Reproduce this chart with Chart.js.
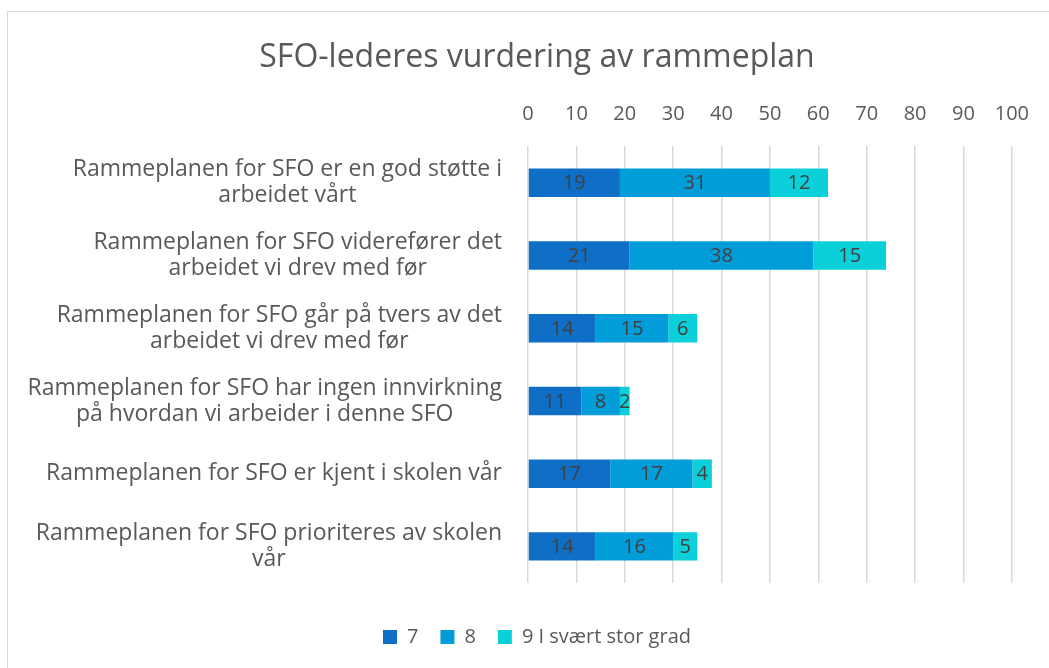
<!DOCTYPE html>
<html>
<head>
<meta charset="utf-8">
<script src="https://cdn.jsdelivr.net/npm/chart.js@4.4.1/dist/chart.umd.min.js"></script>
<style>
    body { margin: 0; background: #fff; }
    #wrap { position: relative; width: 1049px; height: 668px; overflow: hidden; }
    #frame { position: absolute; left: 7px; top: 11px; width: 1080px; height: 700px; border: 1.5px solid #d9d9d9; }
    #c { position: absolute; left: 0; top: 0; }
</style>
</head>
<body>
<div id="wrap">
    <div id="frame"></div>
    <canvas id="c" width="1049" height="668"></canvas>
</div>
<script>
var categories = [
    ["Rammeplanen for SFO er en god støtte i", "arbeidet vårt"],
    ["Rammeplanen for SFO viderefører det", "arbeidet vi drev med før"],
    ["Rammeplanen for SFO går på tvers av det", "arbeidet vi drev med før"],
    ["Rammeplanen for SFO har ingen innvirkning", "på hvordan vi arbeider i denne SFO"],
    ["Rammeplanen for SFO er kjent i skolen vår"],
    ["Rammeplanen for SFO prioriteres av skolen", "vår"]
];
var seriesNames = ["7", "8", "9 I svært stor grad"];
var values7 = [19, 21, 14, 11, 17, 14];
var values8 = [31, 38, 15, 8, 17, 16];
var values9 = [12, 15, 6, 2, 4, 5];
var xMin = 0, xMax = 100, xStep = 10;

var colors = ["#0F6FC6", "#009DD9", "#0BD0D9"];
var fontFamily = "'Open Sans', sans-serif";
var textColor = "#595959";

// category labels: block right aligned, lines centered inside the block
var categoryLabels = {
    id: "categoryLabels",
    afterDraw: function (chart) {
        var ctx = chart.ctx,
            yScale = chart.scales.y,
            right = 502,
            lineH = 26;
        ctx.save();
        ctx.font = "23px " + fontFamily;
        ctx.fillStyle = textColor;
        ctx.textAlign = "center";
        ctx.textBaseline = "middle";
        categories.forEach(function (lines, i) {
            var w = 0;
            lines.forEach(function (l) { w = Math.max(w, ctx.measureText(l).width); });
            var cx = right - w / 2,
                cy = yScale.getPixelForValue(i),
                top = cy - (lines.length - 1) * lineH / 2;
            lines.forEach(function (l, j) {
                ctx.fillText(l, cx, top + j * lineH);
            });
        });
        ctx.restore();
    }
};

// value labels in the middle of each segment
var valueLabels = {
    id: "valueLabels",
    afterDatasetsDraw: function (chart) {
        var ctx = chart.ctx;
        ctx.save();
        ctx.font = "20px " + fontFamily;
        ctx.fillStyle = "#404040";
        ctx.textAlign = "center";
        ctx.textBaseline = "middle";
        chart.data.datasets.forEach(function (ds, di) {
            var meta = chart.getDatasetMeta(di);
            meta.data.forEach(function (bar, i) {
                var p = bar.getCenterPoint();
                ctx.fillText(ds.data[i], p.x, p.y + 1);
            });
        });
        ctx.restore();
    }
};

new Chart(document.getElementById("c").getContext("2d"), {
    type: "bar",
    plugins: [categoryLabels, valueLabels],
    data: {
        labels: categories,
        datasets: [
            { label: seriesNames[0], data: values7, backgroundColor: colors[0] },
            { label: seriesNames[1], data: values8, backgroundColor: colors[1] },
            { label: seriesNames[2], data: values9, backgroundColor: colors[2] }
        ]
    },
    options: {
        indexAxis: "y",
        responsive: false,
        animation: false,
        barPercentage: 0.39,
        categoryPercentage: 1,
        layout: {
            padding: { left: 62, right: 37, top: 0, bottom: 11 }
        },
        scales: {
            x: {
                position: "top",
                stacked: true,
                min: xMin,
                max: xMax,
                grid: {
                    color: "#d9d9d9",
                    lineWidth: 1.5,
                    drawTicks: false
                },
                border: { display: false },
                ticks: {
                    stepSize: xStep,
                    padding: 20,
                    color: textColor,
                    font: { family: fontFamily, size: 20 }
                }
            },
            y: {
                stacked: true,
                grid: { display: false },
                border: { display: false },
                ticks: { display: false },
                afterFit: function (scale) {
                    scale.width = 466;
                }
            }
        },
        plugins: {
            title: {
                display: true,
                text: "SFO-lederes vurdering av rammeplan",
                color: textColor,
                font: { family: fontFamily, size: 32, weight: "normal" },
                padding: { top: 39, bottom: 5 }
            },
            legend: {
                position: "bottom",
                title: {
                    display: true,
                    text: " ",
                    font: { size: 1 },
                    padding: { top: 0, bottom: 21 }
                },
                labels: {
                    color: textColor,
                    boxWidth: 14,
                    boxHeight: 14,
                    padding: 22,
                    font: { family: fontFamily, size: 20 }
                }
            },
            tooltip: { enabled: false }
        }
    }
});
</script>
</body>
</html>
